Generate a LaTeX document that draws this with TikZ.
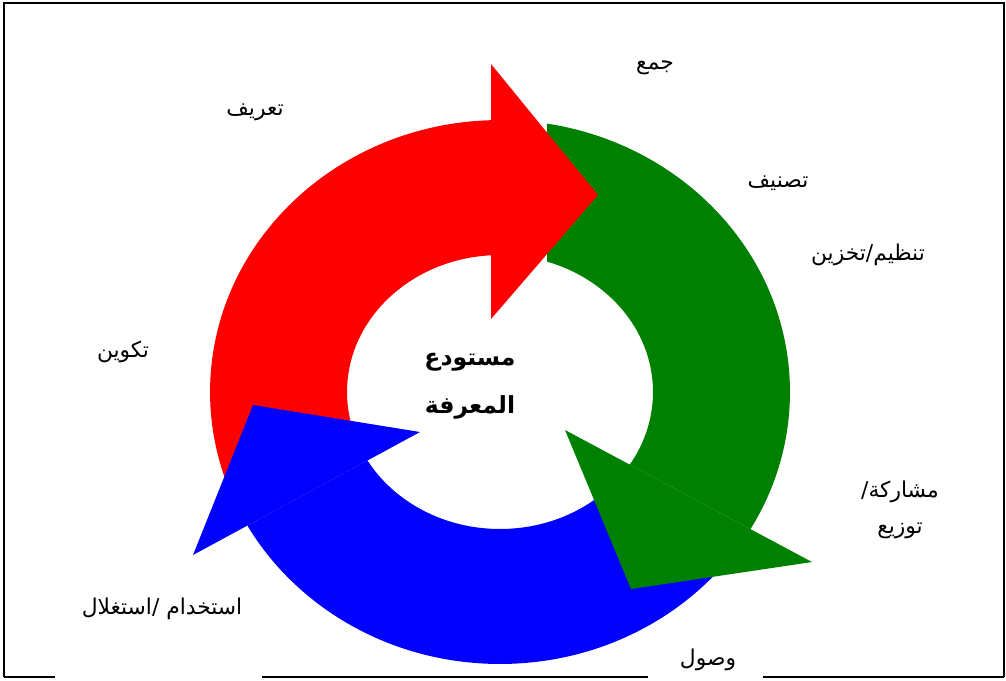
\documentclass[tikz,border=0pt]{standalone}
\usepackage{fontspec}
\newfontfamily\arabicfont[Script=Arabic]{DejaVu Sans}
\TeXXeTstate=1

\definecolor{ringred}{RGB}{255,0,0}
\definecolor{ringgreen}{RGB}{0,128,0}
\definecolor{ringblue}{RGB}{0,0,255}

\tikzset{
  arlabel/.style={font=\arabicfont\fontsize{12.4}{20.4}\selectfont, inner sep=0pt, align=center},
  arcenter/.style={font=\arabicfont\bfseries\fontsize{13.4}{27}\selectfont, inner sep=0pt, align=center},
  frameline/.style={line width=1.1pt},
}

\begin{document}
\begin{tikzpicture}[x=0.02cm, y=-0.02cm]
        \useasboundingbox (0,0) rectangle (1006,680);

        % Frame
        \draw[frameline] (4,677) -- (4,3) -- (1004,3) -- (1004,677);
        \draw[frameline] (4,677) -- (55,677);
        \draw[frameline] (262,677) -- (648,677);
        \draw[frameline] (763,677) -- (1004,677);

        % Blue band (head comes last)
        \begin{scope}
          \clip (500,392) -- (1100,896) -- (1100,900) -- (-300,900) -- (-300,822.2) -- (500,388.6) -- cycle;
          \fill[ringblue, even odd rule] (500,392) ellipse [x radius=5.8cm, y radius=5.44cm]
                                         (500,392) ellipse [x radius=3.06cm, y radius=2.74cm];
        \end{scope}

        % Green band and head
        \begin{scope}
          \clip (500,395.3) -- (547,392) -- (547,-100) -- (1100,-100) -- (1100,715.9) -- cycle;
          \fill[ringgreen, even odd rule] (500,392) ellipse [x radius=5.8cm, y radius=5.44cm]
                                          (500,392) ellipse [x radius=3.06cm, y radius=2.74cm];
        \end{scope}
        \fill[ringgreen] (565,430) -- (812,562) -- (631,589) -- cycle;

        % Red band and head
        \begin{scope}
          \clip (500,392) -- (-310,716) -- (-310,-100) -- (491,-100) -- (491,392) -- cycle;
          \fill[ringred, even odd rule] (500,392) ellipse [x radius=5.8cm, y radius=5.44cm]
                                        (500,392) ellipse [x radius=3.06cm, y radius=2.74cm];
        \end{scope}
        \fill[ringred] (491,64) -- (598,195) -- (491,319) -- cycle;

        % Blue head
        \fill[ringblue] (253,405) -- (420,432) -- (193,555) -- cycle;

        % Labels
        \node[arcenter] (repo) at (470,386) {\beginR مستودع\endR\\\beginR المعرفة\endR};
        \node[arlabel] (define) at (255,112) {\beginR تعريف\endR};
        \node[arlabel] (collect) at (655,68) {\beginR جمع\endR};
        \node[arlabel] (classify) at (778,183) {\beginR تصنيف\endR};
        \node[arlabel] (store) at (868,255) {\beginR تنظيم/تخزين\endR};
        \node[arlabel] (share) at (900,510) {\beginR مشاركة/\endR\\\beginR توزيع\endR};
        \node[arlabel] (access) at (708,660) {\beginR وصول\endR};
        \node[arlabel] (use) at (162,609) {\beginR استخدام /استغلال\endR};
        \node[arlabel] (form) at (123,352) {\beginR تكوين\endR};
\end{tikzpicture}
\end{document}
